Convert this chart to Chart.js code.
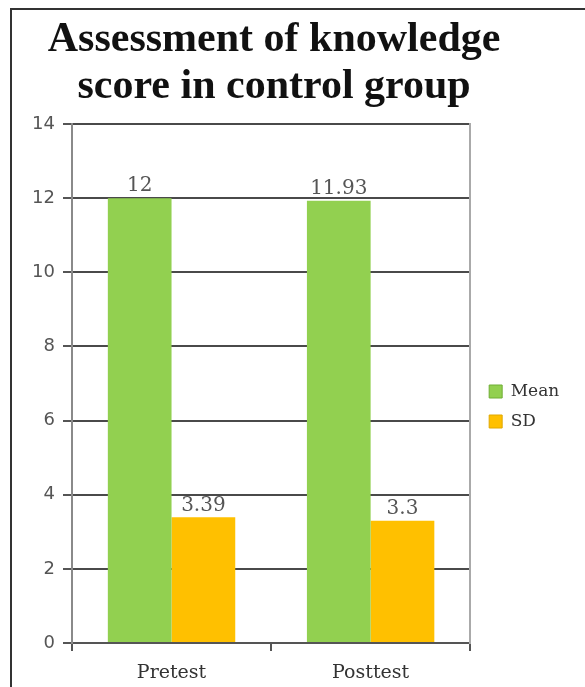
<!DOCTYPE html>
<html>
<head>
<meta charset="utf-8">
<script src="https://cdn.jsdelivr.net/npm/chart.js@4"></script>
<style>
  html, body { margin: 0; padding: 0; background: #ffffff; overflow: hidden; }
  #wrap { position: relative; width: 585px; height: 687px; }
  #frame { position: absolute; left: 10px; top: 8px; width: 700px; height: 800px;
           border-left: 2px solid #333; border-top: 2px solid #333; pointer-events: none; }
  canvas { position: absolute; left: 0; top: 0; }
</style>
</head>
<body>
<div id="wrap">
  <canvas id="chart" width="585" height="687"></canvas>
  <div id="frame"></div>
</div>
<script>
// Knowledge scores of the control group
const categories = ['Pretest', 'Posttest'];
const meanValues = [12, 11.93];
const sdValues = [3.39, 3.3];
const seriesNames = ['Mean', 'SD'];
const yTicks = [0, 2, 4, 6, 8, 10, 12, 14];
const titleLines = ['Assessment of knowledge', 'score in control group'];

// Writes each bar's value just above its top
const valueLabels = {
  id: 'valueLabels',
  afterDatasetsDraw(chart) {
    const ctx = chart.ctx;
    ctx.save();
    ctx.font = '20px "DejaVu Serif"';
    ctx.fillStyle = '#555555';
    ctx.textAlign = 'center';
    ctx.textBaseline = 'bottom';
    chart.data.datasets.forEach((ds, i) => {
      chart.getDatasetMeta(i).data.forEach((bar, j) => {
        ctx.fillText(String(ds.data[j]), bar.x, bar.y - 2);
      });
    });
    ctx.restore();
  }
};

// Two-line heading above the plot, allowed to run wider than the plot area
const heading = {
  id: 'heading',
  afterDraw(chart) {
    const ctx = chart.ctx;
    const a = chart.chartArea;
    const cx = (a.left + a.right) / 2 + 3;
    ctx.save();
    ctx.font = 'bold 42px "Liberation Serif"';
    ctx.fillStyle = '#111111';
    ctx.textAlign = 'center';
    ctx.textBaseline = 'alphabetic';
    titleLines.forEach((line, i) => {
      ctx.fillText(line, cx, a.top - 73 + i * 47);
    });
    ctx.restore();
  }
};

new Chart(document.getElementById('chart'), {
  type: 'bar',
  data: {
    labels: categories,
    datasets: [
      { label: seriesNames[0], data: meanValues, backgroundColor: '#92D050',
        borderColor: '#6fae35', borderWidth: 0 },
      { label: seriesNames[1], data: sdValues, backgroundColor: '#FFC000',
        borderColor: '#e0a800', borderWidth: 0 }
    ]
  },
  options: {
    responsive: false,
    animation: false,
    devicePixelRatio: 1,
    categoryPercentage: 0.64,
    barPercentage: 1.0,
    layout: { padding: { left: 12, right: 16, top: 124, bottom: 0 } },
    plugins: {
      tooltip: { enabled: false },
      title: { display: false },
      legend: {
        position: 'right',
        align: 'center',
        fullSize: false,
        title: { display: true, text: ' ', padding: { top: 0, bottom: 22 },
                 font: { size: 20 } },
        labels: {
          color: '#333333',
          font: { family: '"DejaVu Serif"', size: 17 },
          boxWidth: 13,
          boxHeight: 13,
          padding: 13,
          generateLabels(chart) {
            return chart.data.datasets.map((ds, i) => ({
              text: ds.label,
              fillStyle: ds.backgroundColor,
              strokeStyle: ds.borderColor,
              lineWidth: 1,
              fontColor: '#333333',
              datasetIndex: i
            }));
          }
        }
      }
    },
    scales: {
      x: {
        grid: { display: true, offset: true, drawOnChartArea: false, drawTicks: true,
                tickLength: 8, color: '#555555', lineWidth: 2 },
        border: { display: true, color: '#555555', width: 2 },
        ticks: { color: '#333333', padding: 11,
                 font: { family: '"DejaVu Serif"', size: 19 } },
        afterFit(scale) { scale.height = 44; }
      },
      y: {
        min: 0,
        max: 14,
        afterBuildTicks(scale) { scale.ticks = yTicks.map(v => ({ value: v })); },
        grid: { color: '#4a4a4a', lineWidth: 2, drawTicks: true, tickLength: 9,
                tickColor: '#555555' },
        border: { display: true, color: '#8a8a8a', width: 2 },
        ticks: { color: '#555555', padding: 8,
                 font: { family: '"DejaVu Sans"', size: 18 } },
        afterFit(scale) { scale.width = 60; }
      },
      yRight: {
        position: 'right',
        min: 0,
        max: 14,
        grid: { display: false, drawTicks: false },
        border: { display: true, color: '#aaaaaa', width: 2 },
        ticks: { display: false },
        afterFit(scale) { scale.width = 6; }
      }
    }
  },
  plugins: [valueLabels, heading]
});
</script>
</body>
</html>
